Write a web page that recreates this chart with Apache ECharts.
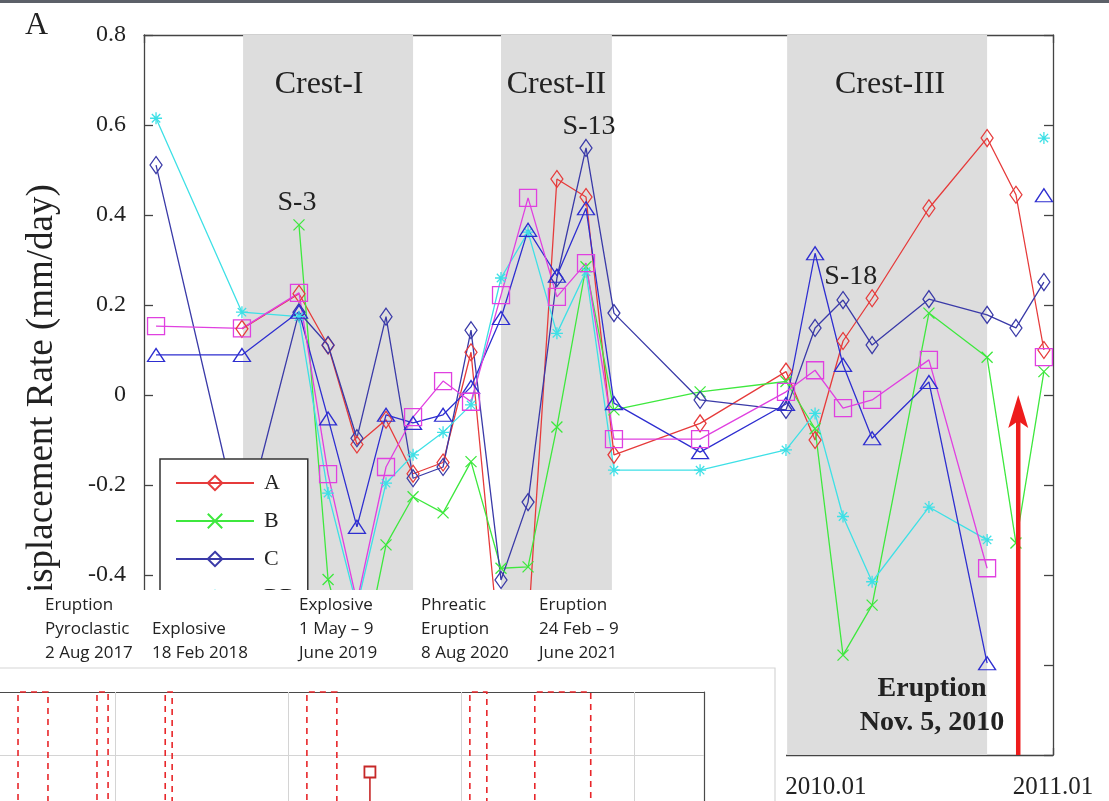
<!DOCTYPE html>
<html><head><meta charset="utf-8">
<script src="https://cdn.jsdelivr.net/npm/echarts@6/dist/echarts.min.js"></script>
<style>html,body{margin:0;padding:0;background:#fff;overflow:hidden}#c{width:1109px;height:801px}</style>
</head><body><div id="c"></div>
<script>
// ---------- DATA ----------
const dates = [2007.053, 2007.431, 2007.682, 2007.810, 2007.937, 2008.065, 2008.184, 2008.316, 2008.439, 2008.571, 2008.690, 2008.817, 2008.945, 2009.068, 2009.447, 2009.825, 2009.953, 2010.076, 2010.204, 2010.454, 2010.710, 2010.837, 2010.960];
const valsA  = [null, 0.147, 0.225, 0.110, -0.110, -0.055, -0.175, -0.150, 0.095, -0.600, -0.520, 0.480, 0.440, -0.133, -0.063, 0.052, -0.100, 0.120, 0.215, 0.415, 0.571, 0.445, 0.100];
const valsB  = [null, null, 0.378, -0.410, -0.650, -0.333, -0.226, -0.262, -0.148, -0.385, -0.382, -0.071, 0.285, -0.033, 0.007, 0.030, -0.075, -0.578, -0.467, 0.182, 0.084, -0.329, 0.052];
const valsC  = [0.511, -0.310, 0.184, 0.111, -0.096, 0.174, -0.185, -0.160, 0.144, -0.411, -0.238, 0.260, 0.549, 0.182, -0.011, -0.033, 0.149, 0.211, 0.111, 0.213, 0.178, 0.149, 0.251];
const valsDD = [0.615, 0.184, 0.174, -0.218, -0.470, -0.196, -0.133, -0.083, -0.022, 0.260, 0.362, 0.137, 0.274, -0.167, -0.167, -0.122, -0.041, -0.270, -0.415, -0.249, -0.322, null, 0.571];
const valsE  = [0.089, 0.089, 0.185, -0.052, -0.293, -0.044, -0.062, -0.044, 0.018, 0.171, 0.367, 0.265, 0.415, -0.018, -0.127, -0.020, 0.315, 0.067, -0.096, 0.029, -0.596, null, 0.444];
const valsF  = [0.153, 0.148, 0.227, -0.176, -0.460, -0.160, -0.049, 0.031, -0.015, 0.222, 0.438, 0.218, 0.293, -0.098, -0.098, 0.007, 0.055, -0.029, -0.011, 0.078, -0.385, null, 0.084];
const seriesNames = ['A', 'B', 'C', 'DD', 'E', 'F'];
const xTickLabels = ['2007.01', '2008.01', '2009.01', '2010.01', '2011.01'];
const yAxisTitle = 'Displacement Rate (mm/day)';
const crestBands = [[2007.436, 2008.184], [2008.571, 2009.059], [2009.830, 2010.710]];
const crestNames = ['Crest-I', 'Crest-II', 'Crest-III'];
const pointNotes = [['B', 2, 'S-3'], ['C', 12, 'S-13'], ['E', 16, 'S-18']];
const eruptionDate = 2010.847;
const eruptionText = ['Eruption', 'Nov. 5, 2010'];
const eventNotes = [
  ['Eruption', 'Pyroclastic', '2 Aug 2017'],
  ['', 'Explosive', '18 Feb 2018'],
  ['Explosive', '1 May \u2013 9', 'June 2019'],
  ['Phreatic', 'Eruption', '8 Aug 2020'],
  ['Eruption', '24 Feb \u2013 9', 'June 2021']
];
// lower-left inset (cut-off second figure)
const fragXRange = [2017.336, 2021.401];
const fragYRange = [0.27, 2];
const fragGridYears = [2018, 2019, 2020, 2021];
const fragGridLevels = [1];
const eventWindows = [[2017.440, 2017.613], [2017.896, 2017.960], [2018.290, 2018.330], [2019.108, 2019.281], [2020.049, 2020.147], [2020.424, 2020.747]];
const stemPoint = [2019.472, 0.73];

// ---------- STYLE ----------
const SERIF = "'Liberation Serif', 'Times New Roman', 'DejaVu Serif', serif";
const SANS = "'Open Sans', 'Noto Sans', sans-serif";
const styles = {
  A:  {color: '#e63b3b', symbol: 'diamond', size: [12, 17]},
  B:  {color: '#3ee83e', symbol: 'path://M0,0L10,10M10,0L0,10', size: 11},
  C:  {color: '#3a3aa8', symbol: 'diamond', size: [12, 17]},
  DD: {color: '#3ee0e6', symbol: 'path://M5,0L5,10M0,5L10,5M1.5,1.5L8.5,8.5M8.5,1.5L1.5,8.5', size: 12},
  E:  {color: '#2e2ed0', symbol: 'triangle', size: [17, 13]},
  F:  {color: '#e040e0', symbol: 'rect', size: 17}
};
const valsByName = {A: valsA, B: valsB, C: valsC, DD: valsDD, E: valsE, F: valsF};
const noteStyle = {
  'S-3':  {position: 'top', distance: 2, offset: [-2, 0]},
  'S-13': {position: 'top', distance: 0, offset: [3, 2]},
  'S-18': {position: 'right', distance: 4, offset: [-4, 23]}
};

const dataSeries = seriesNames.map(name => {
  const st = styles[name];
  const data = dates.map((d, i) => [d, valsByName[name][i] == null ? '-' : valsByName[name][i]]);
  pointNotes.filter(n => n[0] === name).forEach(n => {
    const ns = noteStyle[n[2]];
    data[n[1]] = {value: data[n[1]], label: Object.assign({show: true, formatter: n[2], fontFamily: SERIF, fontSize: 28, color: '#222'}, ns)};
  });
  return {
    type: 'line', name, data, xAxisIndex: 0, yAxisIndex: 0, z: 3,
    symbol: st.symbol, symbolSize: st.size, showAllSymbol: true,
    lineStyle: {color: st.color, width: 1.3},
    itemStyle: {color: 'rgba(255,255,255,0)', borderColor: st.color, borderWidth: 1.3},
    emphasis: {disabled: true}
  };
});

const bandSeries = {
  type: 'line', name: 'bands', data: [], xAxisIndex: 0, yAxisIndex: 0, z: 1,
  markArea: {
    silent: true,
    itemStyle: {color: '#dddddd'},
    label: {show: true, position: 'insideTop', distance: 34, fontFamily: SERIF, fontSize: 32, color: '#222'},
    data: crestBands.map((b, i) => [{xAxis: b[0], name: crestNames[i], label: {offset: [[-9, 0], [0, 0], [3, 0]][i]}}, {xAxis: b[1]}])
  }
};

const arrowSeries = {
  type: 'custom', name: 'arrow', xAxisIndex: 0, yAxisIndex: 0, z: 6, silent: true,
  data: [[eruptionDate, -0.8, 0]],
  encode: {x: 0, y: [1, 2]},
  renderItem: (params, api) => {
    const x = api.value(0);
    const p0 = api.coord([x, api.value(1)]);
    const p1 = api.coord([x, api.value(2)]);
    const headLen = 33, headW = 10, notch = 7, col = '#ee1c1c';
    return {type: 'group', children: [
      {type: 'line', shape: {x1: p0[0], y1: p0[1], x2: p1[0], y2: p1[1] + headLen - notch}, style: {stroke: col, lineWidth: 4.5}},
      {type: 'polygon', shape: {points: [[p1[0], p1[1]], [p1[0] + headW, p1[1] + headLen], [p1[0], p1[1] + headLen - notch], [p1[0] - headW, p1[1] + headLen]]}, style: {fill: col}}
    ]};
  }
};

// inset series
const fragGridSeries = {
  type: 'line', name: 'fragGrid', data: [], xAxisIndex: 2, yAxisIndex: 2, z: 61, silent: true,
  markLine: {
    silent: true, z: 61, symbol: ['none', 'none'], animation: false,
    label: {show: false},
    lineStyle: {color: '#d4d4d4', type: 'solid', width: 1},
    data: fragGridYears.map(y => ({xAxis: y})).concat(fragGridLevels.map(v => ({yAxis: v})))
  }
};
const windowSeries = {
  type: 'custom', name: 'windows', xAxisIndex: 2, yAxisIndex: 2, z: 62, silent: true,
  data: eventWindows,
  encode: {x: [0, 1]},
  renderItem: (params, api) => {
    const t1 = api.coord([api.value(0), fragYRange[1]]);
    const t2 = api.coord([api.value(1), fragYRange[1]]);
    const yb = api.coord([api.value(0), fragYRange[0]])[1] + 10;
    return {type: 'polyline', shape: {points: [[t1[0], yb], [t1[0], t1[1]], [t2[0], t2[1]], [t2[0], yb]]},
      style: {stroke: '#e8262a', lineWidth: 1.6, lineDash: [6, 5], fill: null}};
  }
};
const stemSeries = {
  type: 'line', name: 'stem', xAxisIndex: 2, yAxisIndex: 2, z: 63, silent: true,
  data: [{value: [stemPoint[0], fragYRange[0]], symbol: 'none'}, {value: stemPoint}],
  symbol: 'rect', symbolSize: 11, showAllSymbol: true,
  lineStyle: {color: '#c62828', width: 1.6},
  itemStyle: {color: '#fff', borderColor: '#c62828', borderWidth: 1.8}
};

const axisLineStyle = {color: '#444', width: 1.3};
const colX = [45, 152, 299, 421, 539];
const rowY = [605, 629, 653];
const graphics = [
  {type: 'rect', shape: {x: 0, y: 0, width: 1109, height: 3}, style: {fill: '#5c6068'}, z: 50},
  {type: 'text', x: 25, y: 26, style: {text: 'A', font: '32px ' + SERIF, fill: '#222', align: 'left', verticalAlign: 'middle'}, z: 10},
  {type: 'text', x: 42, y: 402, rotation: Math.PI / 2, style: {text: yAxisTitle, font: '37px ' + SERIF, fill: '#222', align: 'center', verticalAlign: 'middle'}, z: 10},
  {type: 'text', x: 932, y: 689, style: {text: eruptionText[0], font: 'bold 28px ' + SERIF, fill: '#222', align: 'center', verticalAlign: 'middle'}, z: 10},
  {type: 'text', x: 932, y: 723, style: {text: eruptionText[1], font: 'bold 28px ' + SERIF, fill: '#222', align: 'center', verticalAlign: 'middle'}, z: 10},
  {type: 'rect', shape: {x: 0, y: 590, width: 786, height: 211}, style: {fill: '#fff'}, z: 50},
  {type: 'polyline', shape: {points: [[0, 668], [775, 668], [775, 801]]}, style: {stroke: '#d6d6d6', lineWidth: 1.2, fill: null}, z: 55}
];
eventNotes.forEach((col, ci) => col.forEach((t, ri) => {
  if (t) graphics.push({type: 'text', x: colX[ci], y: rowY[ri], style: {text: t, font: '17px ' + SANS, fill: '#222', align: 'left', verticalAlign: 'middle'}, z: 56});
}));

const chart = echarts.init(document.getElementById('c'), null, {renderer: 'canvas'});
chart.setOption({
  animation: false,
  backgroundColor: '#fff',
  grid: [
    {left: 144, right: 56, top: 35, bottom: 46},
    {left: 0, top: 692, right: 405, bottom: 0, show: false, z: 60}
  ],
  legend: {
    data: seriesNames, orient: 'vertical', left: 160, top: 459,
    padding: [13, 12, 13, 15], itemGap: 16, itemWidth: 78, itemHeight: 18,
    backgroundColor: '#fff', borderColor: '#333', borderWidth: 1.5, borderRadius: 0,
    textStyle: {fontFamily: SERIF, fontSize: 22, color: '#222', padding: [0, 0, 0, 5]},
    selectedMode: false, z: 4
  },
  xAxis: [
    {gridIndex: 0, type: 'value', min: 2007, max: 2011, interval: 1, position: 'bottom',
     axisLine: {onZero: false, lineStyle: axisLineStyle}, axisTick: {inside: true, length: 7, lineStyle: axisLineStyle},
     axisLabel: {formatter: v => xTickLabels[Math.round(v - 2007)], fontFamily: SERIF, fontSize: 25, color: '#222', margin: 20},
     splitLine: {show: false}},
    {gridIndex: 0, type: 'value', min: 2007, max: 2011, interval: 1, position: 'top',
     axisLine: {onZero: false, lineStyle: axisLineStyle}, axisTick: {inside: true, length: 8, lineStyle: axisLineStyle},
     axisLabel: {show: false}, splitLine: {show: false}},
    {gridIndex: 1, type: 'value', min: fragXRange[0], max: fragXRange[1], position: 'top', z: 60,
     axisLine: {show: true, onZero: false, lineStyle: {color: '#4a4a4a', width: 1.2}}, axisTick: {show: false}, axisLabel: {show: false},
     splitLine: {show: false}}
  ],
  yAxis: [
    {gridIndex: 0, type: 'value', min: -0.8, max: 0.8, interval: 0.2, position: 'left',
     axisLine: {onZero: false, lineStyle: axisLineStyle}, axisTick: {inside: true, length: 9, lineStyle: axisLineStyle},
     axisLabel: {fontFamily: SERIF, fontSize: 24, color: '#222', margin: 18}, splitLine: {show: false}},
    {gridIndex: 0, type: 'value', min: -0.8, max: 0.8, interval: 0.2, position: 'right',
     axisLine: {onZero: false, lineStyle: axisLineStyle}, axisTick: {inside: true, length: 9, lineStyle: axisLineStyle},
     axisLabel: {show: false}, splitLine: {show: false}},
    {gridIndex: 1, type: 'value', min: fragYRange[0], max: fragYRange[1], position: 'right', z: 60,
     axisLine: {show: true, onZero: false, lineStyle: {color: '#4a4a4a', width: 1.2}}, axisTick: {show: false}, axisLabel: {show: false},
     splitLine: {show: false}}
  ],
  graphic: graphics,
  series: [bandSeries].concat(dataSeries, [arrowSeries, fragGridSeries, windowSeries, stemSeries])
});
</script>
</body></html>
